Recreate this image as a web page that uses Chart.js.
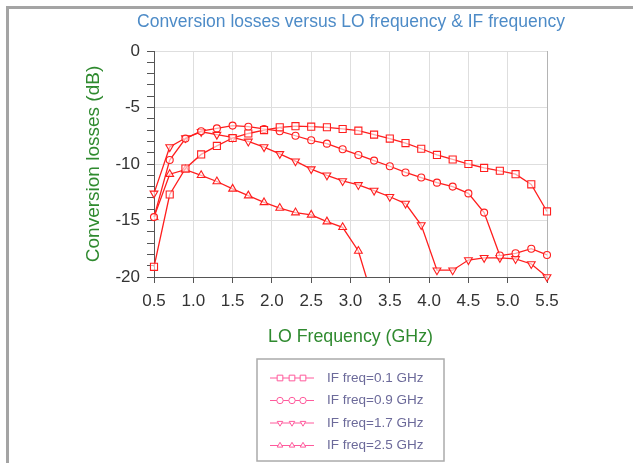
<!DOCTYPE html>
<html><head><meta charset="utf-8">
<script src="https://cdn.jsdelivr.net/npm/chart.js@4.4.1/dist/chart.umd.min.js"></script>
<style>
html,body{margin:0;padding:0;background:#fff;}
#wrap{position:relative;width:633px;height:463px;overflow:hidden;}
canvas{position:absolute;left:0;top:0;}
#frame{position:absolute;left:6px;top:6px;right:-4px;bottom:-4px;border-top:3px solid #a4a4a4;border-left:3px solid #a4a4a4;pointer-events:none;}
</style></head><body>
<div id="wrap"><canvas id="c" width="633" height="463"></canvas><div id="frame"></div></div>
<script>
// ---- data ----
const loFreq = [0.5,0.7,0.9,1.1,1.3,1.5,1.7,1.9,2.1,2.3,2.5,2.7,2.9,3.1,3.3,3.5,3.7,3.9,4.1,4.3,4.5,4.7,4.9,5.1,5.3,5.5];
const lossIF01 = [-19.1,-12.7,-10.4,-9.15,-8.4,-7.7,-7.3,-7.0,-6.75,-6.65,-6.7,-6.75,-6.9,-7.05,-7.4,-7.75,-8.15,-8.65,-9.2,-9.6,-10.0,-10.35,-10.6,-10.9,-11.8,-14.2];
const lossIF09 = [-14.7,-9.65,-7.75,-7.1,-6.85,-6.6,-6.7,-6.9,-7.1,-7.5,-7.9,-8.2,-8.7,-9.2,-9.7,-10.2,-10.75,-11.2,-11.65,-12.0,-12.6,-14.3,-18.1,-17.9,-17.5,-18.05];
const lossIF17 = [-12.6,-8.5,-7.7,-7.15,-7.4,-7.65,-8.0,-8.5,-9.1,-9.75,-10.45,-11.0,-11.5,-11.85,-12.35,-12.9,-13.5,-15.4,-19.4,-19.4,-18.5,-18.3,-18.3,-18.4,-18.85,-20.0];
const lossIF25 = [-14.7,-10.9,-10.5,-11.0,-11.55,-12.2,-12.8,-13.4,-13.9,-14.3,-14.5,-15.1,-15.6,-17.7,-22.3];
const seriesLabels = ['IF freq=0.1 GHz','IF freq=0.9 GHz','IF freq=1.7 GHz','IF freq=2.5 GHz'];
const xTickValues = [0.5,1.0,1.5,2.0,2.5,3.0,3.5,4.0,4.5,5.0,5.5];
const yMin = -20, yMax = 0;
const chartTitle = 'Conversion losses versus LO frequency & IF frequency';

Chart.defaults.font.family = '"Liberation Sans", Arial, Helvetica, sans-serif';

const LINE = '#ff1e1e';
const LEGEND_LINE = '#ff5a9c';

function toPoints(arr){ return arr.map((y,i)=>({x: loFreq[i], y})); }

function ds(label, arr, style, rot, radius, clip){
  return {label, data: toPoints(arr), borderColor: LINE, backgroundColor:'rgba(255,255,255,0.6)',
    borderWidth:1.3, pointStyle: style, pointRotation: rot, pointRadius: radius, pointBorderWidth:1.1,
    pointBorderColor: LINE, pointBackgroundColor:'rgba(255,255,255,0.6)', tension:0, clip};
}

// title centred over the plot area (wider than the plot, so drawn here)
const titlePlugin = {
  id:'plotTitle',
  afterDraw(chart){
    const ctx = chart.ctx, ca = chart.chartArea;
    ctx.save();
    ctx.fillStyle = '#4d8bc7';
    ctx.font = '17.5px "Liberation Sans", Arial, sans-serif';
    ctx.textAlign = 'center'; ctx.textBaseline = 'middle';
    ctx.fillText(chartTitle, (ca.left+ca.right)/2 + 0.5, 22);
    ctx.restore();
  }
};

const legendPlugin = {
  id:'boxLegend',
  afterDraw(chart){
    const ctx = chart.ctx, ca = chart.chartArea;
    const bw = 187, bh = 102;
    const bx = Math.round((ca.left+ca.right)/2 - bw/2) , by = 359;
    ctx.save();
    ctx.strokeStyle = '#ababab'; ctx.lineWidth = 1.5;
    ctx.strokeRect(bx, by, bw, bh);
    chart.data.datasets.forEach((d,i)=>{
      const y = by + 19 + i*22.5;
      const lx = bx + 13;
      ctx.strokeStyle = LEGEND_LINE; ctx.lineWidth = 1;
      ctx.beginPath(); ctx.moveTo(lx, y); ctx.lineTo(lx+44, y); ctx.stroke();
      ctx.fillStyle = '#fff';
      [10,22,33].forEach(off=>{
        Chart.helpers.drawPoint(ctx, {pointStyle: d.pointStyle, rotation: d.pointRotation, radius: d.pointStyle==='rect'?4:3.2, borderWidth:1}, lx+off, y);
      });
      ctx.fillStyle = '#6c6a9a';
      ctx.font = '13.5px "Liberation Sans", Arial, sans-serif';
      ctx.textBaseline = 'middle'; ctx.textAlign = 'left';
      ctx.fillText(d.label, lx+57, y);
    });
    ctx.restore();
  }
};

new Chart(document.getElementById('c'), {
  type:'line',
  data:{ datasets:[
    ds(seriesLabels[0], lossIF01, 'rect', 0, 5, 6),
    ds(seriesLabels[1], lossIF09, 'circle', 0, 3.5, 6),
    ds(seriesLabels[2], lossIF17, 'triangle', 180, 4.5, 6),
    ds(seriesLabels[3], lossIF25, 'triangle', 0, 4.5, 0)
  ]},
  options:{
    responsive:false, animation:false, events:[],
    layout:{padding:{left:0, top:51, right:86, bottom:0}},
    plugins:{
      legend:{display:false},
      tooltip:{enabled:false},
      title:{display:false}
    },
    scales:{
      x:{type:'linear', min:0.5, max:5.5,
        afterFit(s){ s.height = 186; },
        afterBuildTicks(s){ s.ticks = xTickValues.map(v=>({value:v})); },
        ticks:{color:'#333', font:{size:17}, padding:8, maxRotation:0, autoSkip:false, callback:v=>Number(v).toFixed(1)},
        grid:{color:c=> (c.tick && c.tick.value===5.5) ? '#b4b4b4' : '#dedede', tickColor:'#555', tickLength:6, lineWidth:1},
        border:{color:'#555', width:1},
        title:{display:true, text:'LO Frequency (GHz)', color:'#2f8a2f', font:{size:17.8}, padding:{top:0,bottom:115}}
      },
      y:{min:yMin, max:yMax,
        afterFit(s){ s.width = 154; },
        ticks:{stepSize:1, autoSkip:false, color:'#333', font:{size:17}, padding:7,
          callback:v=> (v%5===0) ? String(v) : ''},
        grid:{color:c=> (c.tick && c.tick.value%5===0) ? '#dedede' : 'rgba(0,0,0,0)', tickColor:'#555', tickLength:7, lineWidth:1},
        border:{color:'#555', width:1},
        title:{display:true, text:'Conversion losses (dB)', color:'#2f8a2f', font:{size:19}, padding:{top:82, bottom:0}}
      }
    }
  },
  plugins:[titlePlugin, legendPlugin]
});
</script>
</body></html>
